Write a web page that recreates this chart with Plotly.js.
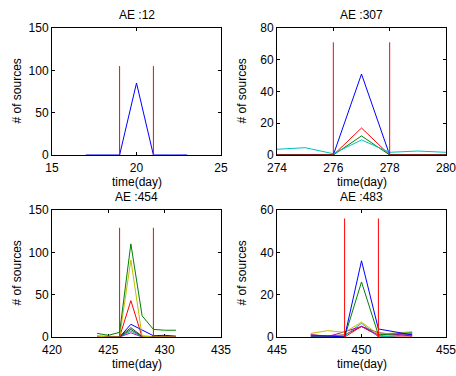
<!DOCTYPE html>
<html>
<head>
<meta charset="utf-8">
<script src="https://cdn.plot.ly/plotly-3.0.1.min.js"></script>
<style>html,body{margin:0;padding:0;background:#fff;}#chart{width:456px;height:376px;}</style>
</head>
<body>
<div id="chart"></div>
<script>
// ---------- data ----------
const panelTitles = ["AE :12", "AE :307", "AE :454", "AE :483"];
const xLabel = "time(day)";
const yLabel = "# of sources";

// Panel 1 (AE :12)
const p1Days = [17, 18, 19, 20, 21, 22, 23];
const p1Blue = [0, 0, 0, 85, 0, 0, 0];
const p1Window = [19, 21];
const p1WindowHeight = 105;

// Panel 2 (AE :307)
const p2Days = [274, 275, 276, 277, 278, 279, 280];
const p2Blue = [0, 0, 0, 51, 0, 0, 0];
const p2Red = [0, 0, 0, 17, 0, 0, 0];
const p2Green = [0, 0, 0, 12, 0, 0, 0];
const p2Cyan = [3.6, 4.6, 0.8, 9.5, 1.7, 2.5, 1.7];
const p2DarkRed = [0, 0, 0, null, 0, 0, 0];
const p2Window = [276, 278];
const p2WindowHeight = 71;

// Panel 3 (AE :454)
const p3Days = [424, 425, 426, 427, 428, 429, 430, 431];
const p3Blue = [0.5, 0.5, 0, 15, 8, 1.5, 2, 1];
const p3Black = [1, 0.5, 0.5, 11, 1, 0.5, 0.5, 0];
const p3Cyan = [0.5, 0, 0, 7, 0.5, 0, 0, 0];
const p3Magenta = [0, 0, 0, 5, 0, 0, 0, 0];
const p3DarkGreen = [0, 0, 0, 9, 0.5, 0, 0, 0];
const p3Red = [0, 0, 0, 43, 0, 0, 0, 0];
const p3Yellow = [1, 0, 0, 91, 1, 0, 0, 0];
const p3Green = [4.3, 2, 5.5, 110, 25, 9, 8, 8];
const p3Window = [426, 429];
const p3WindowHeight = 129;

// Panel 4 (AE :483)
const p4Days = [447, 448, 449, 450, 451, 452, 453];
const p4DarkRed = [1, 0.5, 1, 5, 2, 1.2, 0.5];
const p4Red = [0, 0, 0, 5, 0.5, 0, 0];
const p4Cyan = [0.5, 0.5, 0.5, 6.5, 0, 0.5, 1.7];
const p4Magenta = [1.1, 0.2, 2.5, 5, 1, 1, 1];
const p4Yellow = [1.7, 3, 2.2, 7, 1.3, 2, 2.5];
const p4Green = [0, 0, 0, 26, 1, 1.5, 2];
const p4Blue = [0.5, 0.5, 0, 36, 3.8, 2.5, 1];
const p4Window = [449, 451];
const p4WindowHeight = 56;

// axis settings data
const xRanges = [[15, 25], [274, 280], [420, 435], [445, 455]];
const xDtick = [5, 2, 5, 5];
const yRanges = [[0, 150], [0, 80], [0, 150], [0, 60]];
const yDtick = [50, 20, 50, 20];

// ---------- styles ----------
const C = {
  blue: "#0000ff", green: "#008000", red: "#ff0000", cyan: "#00bfbf",
  magenta: "#bf00bf", yellow: "#bfbf00", black: "#404040", darkred: "#8b1a1a",
  darkgreen: "#006400"
};
const FONT = "Liberation Sans, Arial, Helvetica, sans-serif";
const FS = 12;

function line(x, y, color, ax, w) {
  return {x: x, y: y, type: "scatter", mode: "lines", xaxis: "x" + ax, yaxis: "y" + ax,
    line: {color: color, width: w || 1}, hoverinfo: "skip", showlegend: false, connectgaps: false};
}
function windowLines(win, h, ax, color) {
  return win.map(d => line([d, d], [0, h], color, ax, 1));
}

const traces = [];
// panel 1
traces.push(line(p1Days, p1Blue, C.blue, "", 1));
traces.push(...windowLines(p1Window, p1WindowHeight, "", C.red));
// panel 2
traces.push(line(p2Days, p2Blue, C.blue, "2"));
traces.push(line(p2Days, p2Red, C.red, "2"));
traces.push(line(p2Days, p2Green, C.green, "2"));
traces.push(line(p2Days, p2Cyan, C.cyan, "2"));
traces.push(line(p2Days, p2DarkRed, C.darkred, "2", 1.5));
traces.push(...windowLines(p2Window, p2WindowHeight, "2", C.red));
// panel 3
traces.push(line(p3Days, p3Black, C.black, "3"));
traces.push(line(p3Days, p3Magenta, C.magenta, "3"));
traces.push(line(p3Days, p3Cyan, C.cyan, "3"));
traces.push(line(p3Days, p3DarkGreen, C.darkgreen, "3"));
traces.push(line(p3Days, p3Blue, C.blue, "3"));
traces.push(line(p3Days, p3Red, C.red, "3"));
traces.push(line(p3Days, p3Yellow, C.yellow, "3"));
traces.push(line(p3Days, p3Green, C.green, "3"));
traces.push(...windowLines(p3Window, p3WindowHeight, "3", C.red));
// panel 4
traces.push(line(p4Days, p4DarkRed, C.darkred, "4"));
traces.push(line(p4Days, p4Red, C.red, "4"));
traces.push(line(p4Days, p4Cyan, C.cyan, "4"));
traces.push(line(p4Days, p4Magenta, C.magenta, "4"));
traces.push(line(p4Days, p4Yellow, C.yellow, "4"));
traces.push(line(p4Days, p4Green, C.green, "4"));
traces.push(line(p4Days, p4Blue, C.blue, "4"));
traces.push(...windowLines(p4Window, p4WindowHeight, "4", C.red));

// ---------- layout ----------
const W = 456, H = 376;
// pixel boxes [left, right, top, bottom]
const boxes = [[52, 221, 28, 155], [277, 446, 28, 155], [52, 221, 210, 337], [277, 446, 210, 337]];

const layout = {
  width: W, height: H, margin: {l: 0, r: 0, t: 0, b: 0},
  paper_bgcolor: "#fff", plot_bgcolor: "#fff",
  font: {family: FONT, size: FS, color: "#000"},
  showlegend: false, annotations: []
};
boxes.forEach((b, i) => {
  const s = i === 0 ? "" : String(i + 1);
  const common = {
    showgrid: false, zeroline: false, showline: true, linecolor: "#000", linewidth: 1,
    mirror: "ticks", ticks: "inside", ticklen: 3, tickcolor: "#000", tickwidth: 1,
    tickfont: {family: FONT, size: FS, color: "#000"}, fixedrange: true, layer: "below traces",
    ticklabeloverflow: "allow"
  };
  layout["xaxis" + s] = Object.assign({}, common, {
    domain: [b[0] / W, b[1] / W], range: xRanges[i], dtick: xDtick[i], tick0: 0,
    anchor: "y" + s, ticklabelstandoff: 2
  });
  layout["yaxis" + s] = Object.assign({}, common, {
    domain: [1 - b[3] / H, 1 - b[2] / H], range: yRanges[i], dtick: yDtick[i], tick0: 0,
    anchor: "x" + s
  });
  const cx = (b[0] + b[1]) / 2 / W;
  layout.annotations.push({text: panelTitles[i], xref: "paper", yref: "paper",
    x: cx, y: 1 - (b[2] - 13) / H, showarrow: false, xanchor: "center", yanchor: "middle",
    font: {family: FONT, size: FS, color: "#000"}});
  layout.annotations.push({text: xLabel, xref: "paper", yref: "paper",
    x: cx, y: 1 - (b[3] + 26.5) / H, showarrow: false, xanchor: "center", yanchor: "middle",
    font: {family: FONT, size: FS, color: "#000"}});
  layout.annotations.push({text: yLabel, xref: "paper", yref: "paper", textangle: -90,
    x: (b[0] - 36) / W, y: 1 - (b[2] + b[3]) / 2 / H, showarrow: false,
    xanchor: "center", yanchor: "middle",
    font: {family: FONT, size: FS, color: "#000"}});
});

Plotly.newPlot("chart", traces, layout, {staticPlot: true, displayModeBar: false});
</script>
</body>
</html>
